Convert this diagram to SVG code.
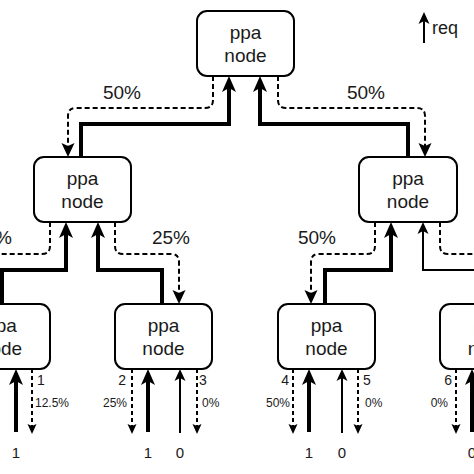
<svg xmlns="http://www.w3.org/2000/svg" width="474" height="474" viewBox="0 0 474 474">
<style>
.box{fill:#fff;stroke:#000;stroke-width:2}
.nt{font-family:"Liberation Sans",Arial,sans-serif;font-size:19px;text-anchor:middle;fill:#1a1a1a}
.lbl{font-family:"Liberation Sans",Arial,sans-serif;font-size:19px;text-anchor:middle;fill:#1a1a1a}
.port{font-family:"Liberation Sans",Arial,sans-serif;font-size:14px;fill:#1a1a1a}
.pct{font-family:"Liberation Sans",Arial,sans-serif;font-size:12px;fill:#1a1a1a}
.val{font-family:"Liberation Sans",Arial,sans-serif;font-size:15px;text-anchor:middle;fill:#1a1a1a}
.thick{fill:none;stroke:#000;stroke-width:4}
.thin{fill:none;stroke:#000;stroke-width:2}
.dash{fill:none;stroke:#000;stroke-width:2;stroke-dasharray:5 3}
.dashs{fill:none;stroke:#000;stroke-width:2;stroke-dasharray:4 3}
</style>
<defs>
<marker id="mThick" markerUnits="userSpaceOnUse" orient="auto" refX="4" refY="0" markerWidth="20" markerHeight="20" overflow="visible"><path d="M0,-7 L16,0 L0,7 L4,0 Z" fill="#000"/></marker>
<marker id="mDash" markerUnits="userSpaceOnUse" orient="auto" refX="3" refY="0" markerWidth="20" markerHeight="20" overflow="visible"><path d="M0,-6.5 L14,0 L0,6.5 L3,0 Z" fill="#000"/></marker>
<marker id="mThin" markerUnits="userSpaceOnUse" orient="auto" refX="3" refY="0" markerWidth="20" markerHeight="20" overflow="visible"><path d="M0,-5.5 L12,0 L0,5.5 L3,0 Z" fill="#000"/></marker>
<marker id="mSmall" markerUnits="userSpaceOnUse" orient="auto" refX="2" refY="0" markerWidth="20" markerHeight="20" overflow="visible"><path d="M0,-4.5 L10,0 L0,4.5 L2,0 Z" fill="#000"/></marker>
</defs>

<g id="connectors">
<!-- top level -->
<path class="thick" d="M81,157 V124 H229 V88" marker-end="url(#mThick)"/>
<path class="thick" d="M408,157 V124 H260 V88" marker-end="url(#mThick)"/>
<path class="dash" d="M213,76 V100 Q213,108 205,108 H76 Q68,108 68,116 V146" marker-end="url(#mDash)"/>
<path class="dash" d="M278,76 V100 Q278,108 286,108 H417 Q425,108 425,116 V146" marker-end="url(#mDash)"/>
<!-- mid left -->
<path class="thick" d="M2,304 V270 H66 V234" marker-end="url(#mThick)"/>
<path class="thick" d="M162,304 V270 H98 V234" marker-end="url(#mThick)"/>
<path class="dash" d="M115,222 V246 Q115,254 123,254 H171 Q179,254 179,262 V293" marker-end="url(#mDash)"/>
<path class="dash" d="M50,222 V246 Q50,254 42,254 H-20"/>
<!-- mid right -->
<path class="thick" d="M325,304 V270 H391 V234" marker-end="url(#mThick)"/>
<path class="thin" d="M500,270 H423 V231" marker-end="url(#mThin)"/>
<path class="dash" d="M375,222 V246 Q375,254 367,254 H319 Q311,254 311,262 V293" marker-end="url(#mDash)"/>
<path class="dash" d="M440,222 V246 Q440,254 448,254 H490"/>
<!-- bottom -->
<path class="thick" d="M16,432 V381" marker-end="url(#mThick)"/>
<path class="dashs" d="M32,369 V426" marker-end="url(#mSmall)"/>
<path class="dashs" d="M132,369 V426" marker-end="url(#mSmall)"/>
<path class="thick" d="M148,432 V381" marker-end="url(#mThick)"/>
<path class="thin" d="M180,433 V378" marker-end="url(#mThin)"/>
<path class="dashs" d="M197,369 V426" marker-end="url(#mSmall)"/>
<path class="dashs" d="M293,369 V426" marker-end="url(#mSmall)"/>
<path class="thick" d="M309,432 V381" marker-end="url(#mThick)"/>
<path class="thin" d="M342,433 V378" marker-end="url(#mThin)"/>
<path class="dashs" d="M358,369 V426" marker-end="url(#mSmall)"/>
<path class="dashs" d="M456,369 V426" marker-end="url(#mSmall)"/>
<path class="thick" d="M472,432 V381" marker-end="url(#mThick)"/>
<!-- legend -->
<path class="thin" d="M424,43 V21" marker-end="url(#mThin)"/>
</g>

<g id="node-top">
<rect class="box" x="197" y="11" width="97" height="65" rx="10"/>
<text class="nt" x="245.5" y="39">ppa</text>
<text class="nt" x="245.5" y="62">node</text>
</g>
<g id="node-mid-left">
<rect class="box" x="34" y="157" width="97" height="65" rx="10"/>
<text class="nt" x="82.5" y="185">ppa</text>
<text class="nt" x="82.5" y="208">node</text>
</g>
<g id="node-mid-right">
<rect class="box" x="359" y="157" width="98" height="65" rx="10"/>
<text class="nt" x="408" y="185">ppa</text>
<text class="nt" x="408" y="208">node</text>
</g>
<g id="node-b1">
<rect class="box" x="-48" y="304" width="98" height="65" rx="10"/>
<text class="nt" x="1" y="332">ppa</text>
<text class="nt" x="1" y="355">node</text>
</g>
<g id="node-b2">
<rect class="box" x="115" y="304" width="97" height="65" rx="10"/>
<text class="nt" x="163.5" y="332">ppa</text>
<text class="nt" x="163.5" y="355">node</text>
</g>
<g id="node-b3">
<rect class="box" x="278" y="304" width="97" height="65" rx="10"/>
<text class="nt" x="326.5" y="332">ppa</text>
<text class="nt" x="326.5" y="355">node</text>
</g>
<g id="node-b4">
<rect class="box" x="440" y="304" width="98" height="65" rx="10"/>
<text class="nt" x="489" y="332">ppa</text>
<text class="nt" x="489" y="355">node</text>
</g>

<g id="labels">
<text class="lbl" x="122" y="99">50%</text>
<text class="lbl" x="366" y="99">50%</text>
<text class="lbl" x="171" y="244">25%</text>
<text class="lbl" x="-7" y="244">25%</text>
<text class="lbl" x="317" y="244">50%</text>

<text class="port" x="37" y="385">1</text>
<text class="pct" x="35" y="407">12.5%</text>
<text class="port" x="126" y="385" text-anchor="end">2</text>
<text class="pct" x="127" y="407" text-anchor="end">25%</text>
<text class="port" x="199" y="385">3</text>
<text class="pct" x="202" y="407">0%</text>
<text class="port" x="289" y="385" text-anchor="end">4</text>
<text class="pct" x="290" y="407" text-anchor="end">50%</text>
<text class="port" x="363" y="385">5</text>
<text class="pct" x="365" y="407">0%</text>
<text class="port" x="452" y="385" text-anchor="end">6</text>
<text class="pct" x="448" y="407" text-anchor="end">0%</text>

<text class="val" x="16" y="458">1</text>
<text class="val" x="148" y="458">1</text>
<text class="val" x="180" y="458">0</text>
<text class="val" x="309" y="458">1</text>
<text class="val" x="342" y="458">0</text>
<text class="val" x="472" y="458">0</text>

<text class="lbl" x="432" y="34" style="text-anchor:start;font-size:18px">req</text>
</g>
</svg>
